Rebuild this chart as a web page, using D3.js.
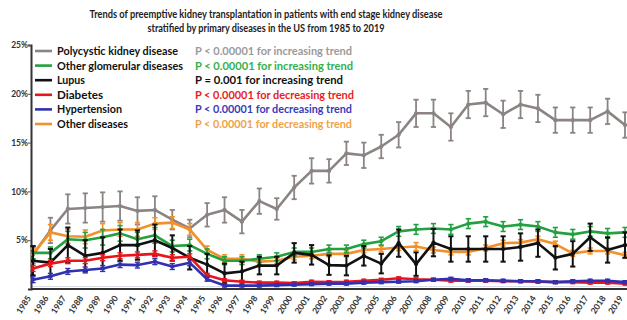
<!DOCTYPE html>
<html>
<head>
<meta charset="utf-8">
<script src="https://cdn.jsdelivr.net/npm/d3@7"></script>
<style>
  html, body { margin: 0; padding: 0; background: #fff; }
  svg { display: block; }
  text { font-family: Lato, "Open Sans", sans-serif; font-weight: bold; }
</style>
</head>
<body>
<svg id="chart" width="627" height="320"></svg>
<script>
// Years of transplantation
const years = d3.range(1985, 2020);

// Percentage of preemptive transplants by primary disease (mean and error half-width)
const polycystic = [3.5, 6.0, 8.2, 8.3, 8.4, 8.5, 8.0, 8.1, 7.1, 6.2, 7.6, 8.1, 6.9, 9.0, 8.2, 10.4, 12.1, 12.1, 13.9, 13.7, 14.6, 15.8, 18.0, 18.0, 16.6, 18.9, 19.1, 17.9, 18.9, 18.5, 17.3, 17.3, 17.3, 18.2, 16.8];
const polycysticErr = [0.9, 1.3, 1.5, 1.5, 1.5, 1.5, 1.4, 1.4, 1.0, 0.9, 1.2, 1.3, 1.2, 1.3, 1.1, 1.2, 1.3, 1.2, 1.2, 1.3, 1.2, 1.3, 1.4, 1.4, 1.4, 1.4, 1.4, 1.4, 1.4, 1.4, 1.3, 1.3, 1.3, 1.3, 1.3];

const glomerular = [3.7, 3.7, 5.1, 5.0, 5.3, 5.7, 5.1, 5.5, 4.4, 4.5, 3.6, 2.9, 2.9, 3.1, 3.3, 3.8, 3.8, 4.1, 4.1, 4.6, 4.9, 5.9, 6.1, 6.2, 6.1, 6.7, 6.9, 6.4, 6.6, 6.4, 5.8, 5.6, 5.9, 5.7, 5.8];
const glomerularErr = [0.6, 0.6, 0.8, 0.8, 0.8, 0.8, 0.7, 0.8, 0.6, 0.6, 0.5, 0.4, 0.4, 0.4, 0.4, 0.4, 0.4, 0.4, 0.4, 0.4, 0.4, 0.5, 0.5, 0.5, 0.5, 0.5, 0.5, 0.5, 0.5, 0.5, 0.5, 0.5, 0.5, 0.5, 0.5];

const lupus = [2.9, 2.7, 4.5, 3.4, 3.7, 4.5, 4.5, 5.0, 4.2, 3.2, 2.5, 1.6, 1.8, 2.4, 2.4, 3.7, 3.5, 2.45, 2.4, 3.4, 2.6, 4.7, 2.55, 4.75, 4.1, 4.1, 4.1, 4.1, 4.3, 4.7, 3.2, 3.6, 5.3, 4.0, 4.5];
const lupusErr = [1.5, 1.4, 1.8, 1.6, 1.6, 1.6, 1.5, 1.6, 1.3, 1.2, 1.1, 1.0, 1.0, 0.9, 0.9, 1.0, 1.0, 1.0, 1.0, 1.0, 1.0, 1.4, 1.2, 1.4, 1.3, 1.3, 1.3, 1.3, 1.4, 1.4, 1.2, 1.3, 1.4, 1.3, 1.3];

const diabetes = [2.1, 2.6, 2.9, 2.9, 3.2, 3.4, 3.5, 3.6, 3.2, 3.3, 1.4, 0.9, 0.75, 0.65, 0.65, 0.6, 0.75, 0.7, 0.75, 0.85, 0.95, 1.1, 1.0, 0.95, 0.85, 0.85, 0.85, 0.8, 0.8, 0.75, 0.7, 0.7, 0.65, 0.65, 0.55];
const diabetesErr = [0.3, 0.3, 0.3, 0.3, 0.3, 0.3, 0.3, 0.3, 0.3, 0.3, 0.2, 0.15, 0.15, 0.15, 0.15, 0.15, 0.15, 0.15, 0.15, 0.15, 0.15, 0.15, 0.15, 0.15, 0.15, 0.15, 0.15, 0.15, 0.15, 0.15, 0.15, 0.15, 0.15, 0.15, 0.15];

const hypertension = [0.95, 1.3, 1.8, 1.95, 2.1, 2.5, 2.45, 2.8, 2.3, 2.7, 1.0, 0.35, 0.35, 0.35, 0.4, 0.45, 0.5, 0.55, 0.55, 0.65, 0.7, 0.75, 0.8, 0.95, 1.05, 0.9, 0.9, 0.85, 0.8, 0.8, 0.7, 0.8, 0.85, 0.85, 0.7];
const hypertensionErr = [0.3, 0.3, 0.3, 0.3, 0.3, 0.3, 0.3, 0.3, 0.3, 0.3, 0.2, 0.15, 0.15, 0.15, 0.15, 0.15, 0.15, 0.15, 0.15, 0.15, 0.15, 0.15, 0.15, 0.15, 0.15, 0.15, 0.15, 0.15, 0.15, 0.15, 0.15, 0.15, 0.15, 0.15, 0.15];

const otherDiseases = [3.6, 5.8, 5.4, 5.35, 6.0, 6.1, 6.1, 6.7, 6.8, 6.1, 4.0, 3.1, 3.1, 2.8, 2.9, 3.3, 3.4, 3.6, 3.6, 4.0, 4.1, 4.25, 4.35, 4.0, 3.8, 3.8, 4.2, 4.7, 4.75, 5.1, 4.6, 3.65, 3.9, 3.9, 3.45];
const otherDiseasesErr = [0.5, 0.8, 0.7, 0.7, 0.7, 0.7, 0.7, 0.6, 0.6, 0.6, 0.4, 0.4, 0.4, 0.3, 0.3, 0.3, 0.3, 0.3, 0.3, 0.3, 0.3, 0.3, 0.4, 0.3, 0.3, 0.3, 0.3, 0.3, 0.3, 0.3, 0.3, 0.3, 0.3, 0.3, 0.3];

// Legend entries and trend test results
const seriesNames = ["Polycystic kidney disease", "Other glomerular diseases", "Lupus", "Diabetes", "Hypertension", "Other diseases"];
const trendTexts = [
  "P < 0.00001 for increasing trend",
  "P < 0.00001 for increasing trend",
  "P = 0.001 for increasing trend",
  "P < 0.00001 for decreasing trend",
  "P < 0.00001 for decreasing trend",
  "P < 0.00001 for decreasing trend"
];
const yTicks = [5, 10, 15, 20, 25];
const titleLines = [
  "Trends of preemptive kidney transplantation in patients with end stage kidney disease",
  "stratified by primary diseases in the US from 1985 to 2019"
];

const lineColors = ["#8c8383", "#23a040", "#111111", "#e8141c", "#3030b0", "#f2902a"];
const textColors = ["#9a9a9a", "#34b04a", "#111111", "#e81c24", "#3a3ab8", "#eea24a"];

// Text widths of the condensed bold face used in the legend and title
const nameWidths = [121, 126, 28, 46, 65, 71];
const trendWidths = [157, 158, 148, 159, 157, 157];
const titleWidths = [353, 237];

const series = [
  { name: seriesNames[0], values: polycystic, err: polycysticErr, color: lineColors[0], cap: 1.8 },
  { name: seriesNames[5], values: otherDiseases, err: otherDiseasesErr, color: lineColors[5], cap: 1.6 },
  { name: seriesNames[1], values: glomerular, err: glomerularErr, color: lineColors[1], cap: 1.6 },
  { name: seriesNames[2], values: lupus, err: lupusErr, color: lineColors[2], cap: 2.0 },
  { name: seriesNames[3], values: diabetes, err: diabetesErr, color: lineColors[3], cap: 1.4 },
  { name: seriesNames[4], values: hypertension, err: hypertensionErr, color: lineColors[4], cap: 1.4 }
];

const svg = d3.select("#chart");

const x = d3.scalePoint().domain(years).range([33, 625]);
const y = d3.scaleLinear().domain([0, 25]).range([289, 45]);

// Title
svg.append("g").selectAll("text").data(titleLines).join("text")
  .attr("x", 266).attr("y", (d, i) => 18 + i * 14)
  .attr("text-anchor", "middle")
  .attr("font-size", 10.5)
  .attr("textLength", (d, i) => titleWidths[i])
  .attr("lengthAdjust", "spacingAndGlyphs")
  .attr("fill", "#222")
  .text(d => d);

// Faint baseline just above the axis
svg.append("line")
  .attr("x1", 31).attr("x2", 627)
  .attr("y1", y(0.25)).attr("y2", y(0.25))
  .attr("stroke", "#d8dce4").attr("stroke-width", 1);

// Y axis
const yAxis = svg.append("g")
  .attr("transform", "translate(31,0)")
  .call(d3.axisLeft(y).tickValues(yTicks).tickSize(3).tickFormat(d => d + "%"));
yAxis.select(".domain").attr("stroke", "#333").attr("stroke-width", 2);
yAxis.selectAll(".tick line").attr("stroke", "#555");
yAxis.selectAll(".tick text").attr("font-size", 8.5).attr("fill", "#333")
  .attr("font-family", "Lato, sans-serif").attr("font-weight", "bold").attr("x", -3);

// X axis
const xAxis = svg.append("g")
  .attr("transform", "translate(0,289)")
  .call(d3.axisBottom(x).tickSize(0).tickFormat(d => d));
xAxis.select(".domain").attr("d", "M31,0H627").attr("stroke", "#333").attr("stroke-width", 2);
xAxis.selectAll(".tick text")
  .attr("font-size", 8.5).attr("fill", "#333")
  .attr("font-family", "Lato, sans-serif").attr("font-weight", "bold")
  .attr("text-anchor", "end")
  .attr("dy", 0)
  .attr("transform", "translate(-2,9) rotate(-57)")
  .attr("y", 0).attr("x", 0);

// Series
const line = d3.line().x((d, i) => x(years[i])).y(d => y(d));
series.forEach(s => {
  const g = svg.append("g");
  // error bars
  const eb = g.selectAll("g.eb").data(s.values.map((v, i) => ({ v, e: s.err[i], yr: years[i] }))).join("g");
  eb.append("line")
    .attr("x1", d => x(d.yr)).attr("x2", d => x(d.yr))
    .attr("y1", d => y(d.v + d.e)).attr("y2", d => y(Math.max(0, d.v - d.e)))
    .attr("stroke", s.color).attr("stroke-width", s.cap);
  [1, -1].forEach(sign => {
    eb.append("line")
      .attr("x1", d => x(d.yr) - 2.6).attr("x2", d => x(d.yr) + 2.6)
      .attr("y1", d => y(sign > 0 ? d.v + d.e : Math.max(0, d.v - d.e)))
      .attr("y2", d => y(sign > 0 ? d.v + d.e : Math.max(0, d.v - d.e)))
      .attr("stroke", s.color).attr("stroke-width", s.cap);
  });
  g.append("path").datum(s.values)
    .attr("d", line)
    .attr("fill", "none").attr("stroke", s.color).attr("stroke-width", 2.6)
    .attr("stroke-linejoin", "round");
  g.selectAll("circle").data(s.values).join("circle")
    .attr("cx", (d, i) => x(years[i])).attr("cy", d => y(d))
    .attr("r", 2.1).attr("fill", s.color);
});

// Legend
const legend = svg.append("g");
seriesNames.forEach((name, i) => {
  const cy = 51 + i * 14.6;
  legend.append("line")
    .attr("x1", 35).attr("x2", 52).attr("y1", cy).attr("y2", cy)
    .attr("stroke", lineColors[i]).attr("stroke-width", 2.6);
  legend.append("text")
    .attr("x", 57).attr("y", cy + 4)
    .attr("font-size", 11).attr("fill", "#111")
    .attr("textLength", nameWidths[i]).attr("lengthAdjust", "spacingAndGlyphs")
    .text(name);
  legend.append("text")
    .attr("x", 195).attr("y", cy + 4)
    .attr("font-size", 11).attr("fill", textColors[i])
    .attr("textLength", trendWidths[i]).attr("lengthAdjust", "spacingAndGlyphs")
    .text(trendTexts[i]);
});
</script>
</body>
</html>
